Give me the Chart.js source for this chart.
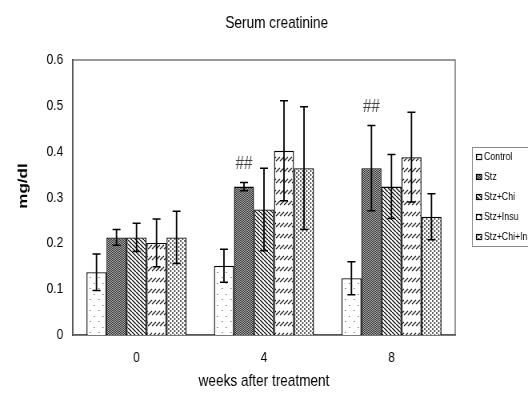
<!DOCTYPE html>
<html>
<head>
<meta charset="utf-8">
<script src="https://cdn.jsdelivr.net/npm/chart.js@4.4.1/dist/chart.umd.min.js"></script>
<style>
  html, body { margin: 0; padding: 0; background: #fff; }
  #wrap { width: 528px; height: 401px; overflow: hidden; }
  /* the original figure is horizontally squeezed: draw wider, show at 528 */
  #myChart { width: 528px; height: 401px; display: block; }
</style>
</head>
<body>
<div id="wrap"><canvas id="myChart" width="660" height="401" style="width:528px;height:401px"></canvas></div>
<script>
// data
const weeks = ['0', '4', '8'];
const groups = ['Control', 'Stz', 'Stz+Chi', 'Stz+Insu', 'Stz+Chi+Insu'];
const controlMean = [0.137, 0.151, 0.124];
const controlErr = [0.040, 0.036, 0.036];
const stzMean = [0.213, 0.324, 0.364];
const stzErr = [0.017, 0.009, 0.093];
const stzChiMean = [0.213, 0.274, 0.324];
const stzChiErr = [0.031, 0.090, 0.070];
const stzInsuMean = [0.201, 0.402, 0.388];
const stzInsuErr = [0.052, 0.109, 0.098];
const stzChiInsuMean = [0.213, 0.364, 0.258];
const stzChiInsuErr = [0.057, 0.134, 0.050];
const stzMarks = ['', '##', '##'];
const yMax = 0.6;
const yStep = 0.1;
const titleText = 'Serum creatinine';
const yTitle = 'mg/dl';

const FONT = "'Liberation Sans', Arial, sans-serif";

function makePattern(w, h, draw) {
  const c = document.createElement('canvas');
  c.width = w; c.height = h;
  const g = c.getContext('2d');
  g.fillStyle = '#fff';
  g.fillRect(0, 0, w, h);
  draw(g);
  return g.createPattern(c, 'repeat');
}

const patControl = makePattern(11, 11, g => {
  g.fillStyle = '#777';
  g.fillRect(2, 2, 1.5, 1);
  g.fillRect(7, 8, 1.5, 1);
});
const patStz = makePattern(2, 2, g => {
  g.fillStyle = '#b0b0b0';
  g.fillRect(0, 0, 2, 2);
  g.fillStyle = '#303030';
  g.fillRect(0, 0, 1, 1);
  g.fillRect(1, 1, 1, 1);
});
const patStzChi = makePattern(5, 4, g => {
  g.strokeStyle = '#111';
  g.lineWidth = 1.3;
  g.beginPath();
  for (let k = -1; k <= 1; k++) {
    g.moveTo(k * 5, 0); g.lineTo(k * 5 + 5, 4);
  }
  g.stroke();
});
const patStzInsu = makePattern(5, 11, g => {
  g.strokeStyle = '#222';
  g.lineWidth = 1.3;
  g.beginPath();
  for (let k = -1; k <= 1; k++) {
    g.moveTo(k * 5, 7); g.lineTo(k * 5 + 5, 3);
  }
  g.stroke();
});
const patStzChiInsu = makePattern(5, 4, g => {
  g.fillStyle = '#222';
  g.beginPath();
  g.arc(1, 1, 0.9, 0, Math.PI * 2);
  g.arc(3.5, 3, 0.9, 0, Math.PI * 2);
  g.fill();
});

const means = [controlMean, stzMean, stzChiMean, stzInsuMean, stzChiInsuMean];
const errs = [controlErr, stzErr, stzChiErr, stzInsuErr, stzChiInsuErr];
const fills = [patControl, patStz, patStzChi, patStzInsu, patStzChiInsu];

const frame = {
  id: 'frame',
  beforeDatasetsDraw(chart) {
    const a = chart.chartArea;
    const c = chart.ctx;
    c.save();
    c.strokeStyle = '#777';
    c.lineWidth = 1.5;
    c.strokeRect(a.left, a.top, a.right - a.left, a.bottom - a.top);
    c.restore();
  },
  afterDraw(chart) {
    const c = chart.ctx;
    c.save();
    c.fillStyle = '#000';
    c.font = '17px ' + FONT;
    c.textAlign = 'center';
    c.textBaseline = 'middle';
    c.fillText(titleText, 346, 23);
    // y axis title
    c.translate(29, 186);
    c.rotate(-Math.PI / 2);
    c.font = 'bold 17px ' + FONT;
    c.fillText(yTitle, 0, 0);
    c.restore();
  }
};

const errorBars = {
  id: 'errorBars',
  afterDatasetsDraw(chart) {
    const c = chart.ctx;
    const y = chart.scales.y;
    c.save();
    chart.data.datasets.forEach((ds, i) => {
      chart.getDatasetMeta(i).data.forEach((bar, j) => {
        const m = ds.data[j], e = ds.err[j];
        const top = y.getPixelForValue(m + e);
        const bot = y.getPixelForValue(m - e);
        c.strokeStyle = '#000';
        c.lineWidth = 1.8;
        c.beginPath();
        c.moveTo(bar.x, top); c.lineTo(bar.x, bot);
        c.stroke();
        c.lineWidth = 1.5;
        c.beginPath();
        c.moveTo(bar.x - 5, top); c.lineTo(bar.x + 5, top);
        c.moveTo(bar.x - 5, bot); c.lineTo(bar.x + 5, bot);
        c.stroke();
        if (ds.marks && ds.marks[j]) {
          c.fillStyle = '#444';
          c.font = '19px ' + FONT;
          c.textAlign = 'center';
          c.textBaseline = 'middle';
          c.fillText(ds.marks[j], bar.x, top - 19);
        }
      });
    });
    c.restore();
  }
};

const sideLegend = {
  id: 'sideLegend',
  afterDraw(chart) {
    const c = chart.ctx;
    c.save();
    c.strokeStyle = '#888';
    c.lineWidth = 1;
    c.strokeRect(590.5, 147.5, 90, 99);
    c.font = '11px ' + FONT;
    c.textBaseline = 'middle';
    c.textAlign = 'left';
    chart.data.datasets.forEach((ds, i) => {
      const yy = 157 + i * 20;
      c.fillStyle = ds.backgroundColor;
      c.fillRect(595, yy - 3, 7, 6);
      c.strokeStyle = '#000';
      c.lineWidth = 1.2;
      c.strokeRect(595.5, yy - 2.5, 6.5, 5);
      c.fillStyle = '#000';
      c.fillText(ds.label, 605, yy);
    });
    c.restore();
  }
};

new Chart(document.getElementById('myChart'), {
  type: 'bar',
  data: {
    labels: weeks,
    datasets: groups.map((g, i) => ({
      label: g,
      data: means[i],
      err: errs[i],
      marks: i === 1 ? stzMarks : null,
      backgroundColor: fills[i],
      borderColor: '#000',
      borderWidth: 1.4,
      categoryPercentage: 0.785,
      barPercentage: 1.0
    }))
  },
  options: {
    responsive: false,
    animation: false,
    devicePixelRatio: 1,
    layout: { padding: { left: 0, right: 91, top: 60, bottom: 0 } },
    plugins: {
      legend: { display: false },
      tooltip: { enabled: false },
      title: { display: false }
    },
    scales: {
      x: {
        grid: { display: false, drawTicks: false },
        border: { display: true, color: '#000', width: 1.5 },
        ticks: { color: '#000', font: { family: FONT, size: 15 }, padding: 14 },
        title: {
          display: true,
          text: 'weeks after treatment',
          color: '#000',
          font: { family: FONT, size: 17 },
          padding: { top: 4, bottom: 9 }
        },
        afterFit(s) { s.height = 66; }
      },
      y: {
        min: 0,
        max: yMax,
        grid: { display: false, drawTicks: false },
        border: { display: true, color: '#000', width: 1.8 },
        ticks: {
          stepSize: yStep,
          color: '#000',
          padding: 12,
          font: { family: FONT, size: 15 },
          callback: v => (v === 0 ? '0' : v.toFixed(1))
        },
        afterFit(s) { s.width = 91; }
      }
    }
  },
  plugins: [frame, errorBars, sideLegend]
});
</script>
</body>
</html>
